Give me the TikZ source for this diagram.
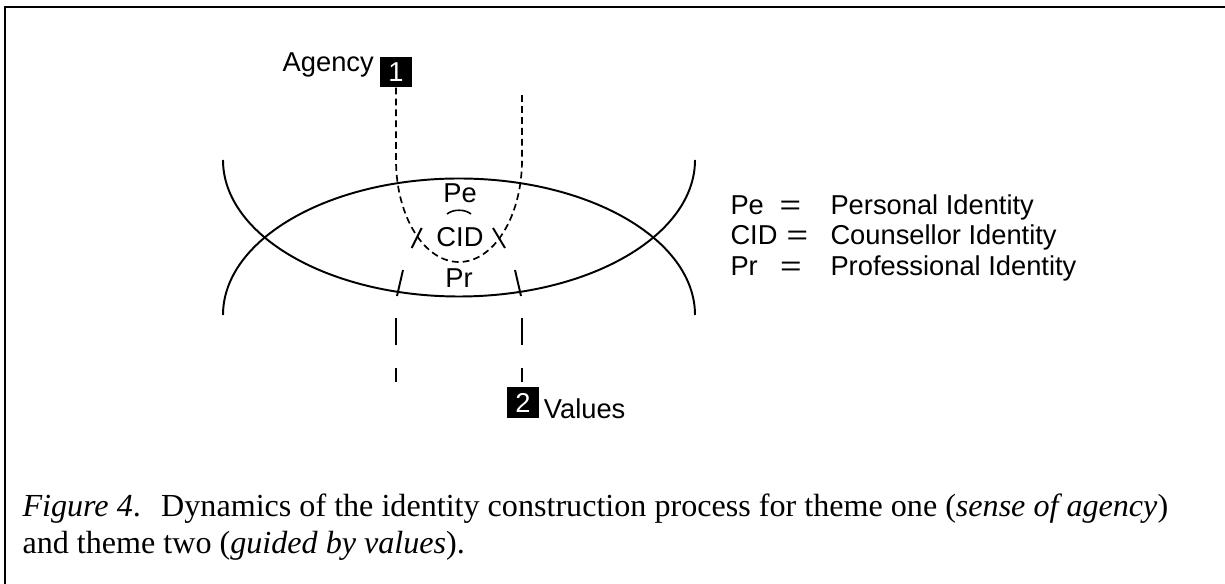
\documentclass[tikz,border=0pt]{standalone}
\usepackage{fontspec}
\usepackage{graphicx}
\setmainfont{Liberation Serif}
\setsansfont{Liberation Sans}
\usetikzlibrary{positioning}
\newcommand{\eqsign}{\scalebox{1.35}[1]{=}}

\begin{document}
\begin{tikzpicture}[x=0.3845pt, y=-0.3845pt,
                      every node/.style = {font=\sffamily\fontsize{10.5}{12.6}\selectfont,
                        inner sep=0pt},
                      numbox/.style = {fill=black, text=white,
                        minimum width=12.3pt, minimum height=11.6pt},
                      lens/.style = {line width=0.75pt},
                      dashline/.style = {line width=0.65pt, dash pattern=on 2.6pt off 1.6pt},
                      longdash/.style = {line width=0.65pt, dash pattern=on 10.4pt off 8.8pt},
                      capline/.style = {font=\rmfamily\fontsize{12.35}{14.8}\selectfont,
                        anchor=base west}]
  \useasboundingbox (0,0) rectangle (1225,584);
  \draw[line width=0.8pt] (5,584) -- (5,7) -- (1225,7);

  % the two themes
  \node[numbox] (one) at (396,72) {1};
  \node[anchor=base east] (agency) at ([xshift=-2pt]one.west) {Agency};
  \node[numbox] (two) at (523,402.5) {2};
  \node[anchor=base west] (values) at ([xshift=1.5pt]two.south east) {Values};

  % the lens
  \draw[lens] (223,315) arc[start angle=180, end angle=360, x radius=236, y radius=136.5];
  \draw[lens] (223,160) arc[start angle=180, end angle=0, x radius=236, y radius=136.5];

  \node (pe) at (460,193) {Pe};
  \node (cid) at (460,237) {CID};
  \node (pr) at (459,278) {Pr};

  \coordinate (uend) at (522,92);
  \draw[dashline] (one.south) -- (396,160)
    arc[start angle=180, end angle=0, x radius=63, y radius=102] -- (uend);
  \draw[line width=0.6pt] (447,214) .. controls (453,209) and (465,209) .. (471,214);
  \draw[lens] (421.7,228) -- (411.7,248);
  \draw[lens] (493,228) -- (505,248);

  \draw[lens] (403,270) -- (397,296);
  \draw[lens] (515,270) -- (521,296);
  \coordinate (lowl) at (396,318);
  \coordinate (lowr) at (522,318);
  \draw[longdash] (lowl) -- (396,382);
  \draw[longdash] (lowr) -- (522,382);

  % key
  \node[anchor=base west] (kpe) at (730,215) {Pe};
  \node[anchor=base] (epe) at (790.5,215) {\eqsign};
  \node[anchor=base west] (dpe) at (830,215) {Personal Identity};
  \node[anchor=base west] (kcid) at (730,245) {CID};
  \node[anchor=base] (ecid) at (797.5,245) {\eqsign};
  \node[anchor=base west] (dcid) at (830,245) {Counsellor Identity};
  \node[anchor=base west] (kpr) at (730,276) {Pr};
  \node[anchor=base] (epr) at (791,276) {\eqsign};
  \node[anchor=base west] (dpr) at (830,276) {Professional Identity};

  \node[capline] (cap1) at (22,516) {\textit{Figure 4}.\hspace{0.3em} Dynamics of the identity construction process for theme one (\textit{sense of agency})};
  \node[capline] (cap2) at (22,554) {and theme two (\textit{guided by values}).};
\end{tikzpicture}
\end{document}
